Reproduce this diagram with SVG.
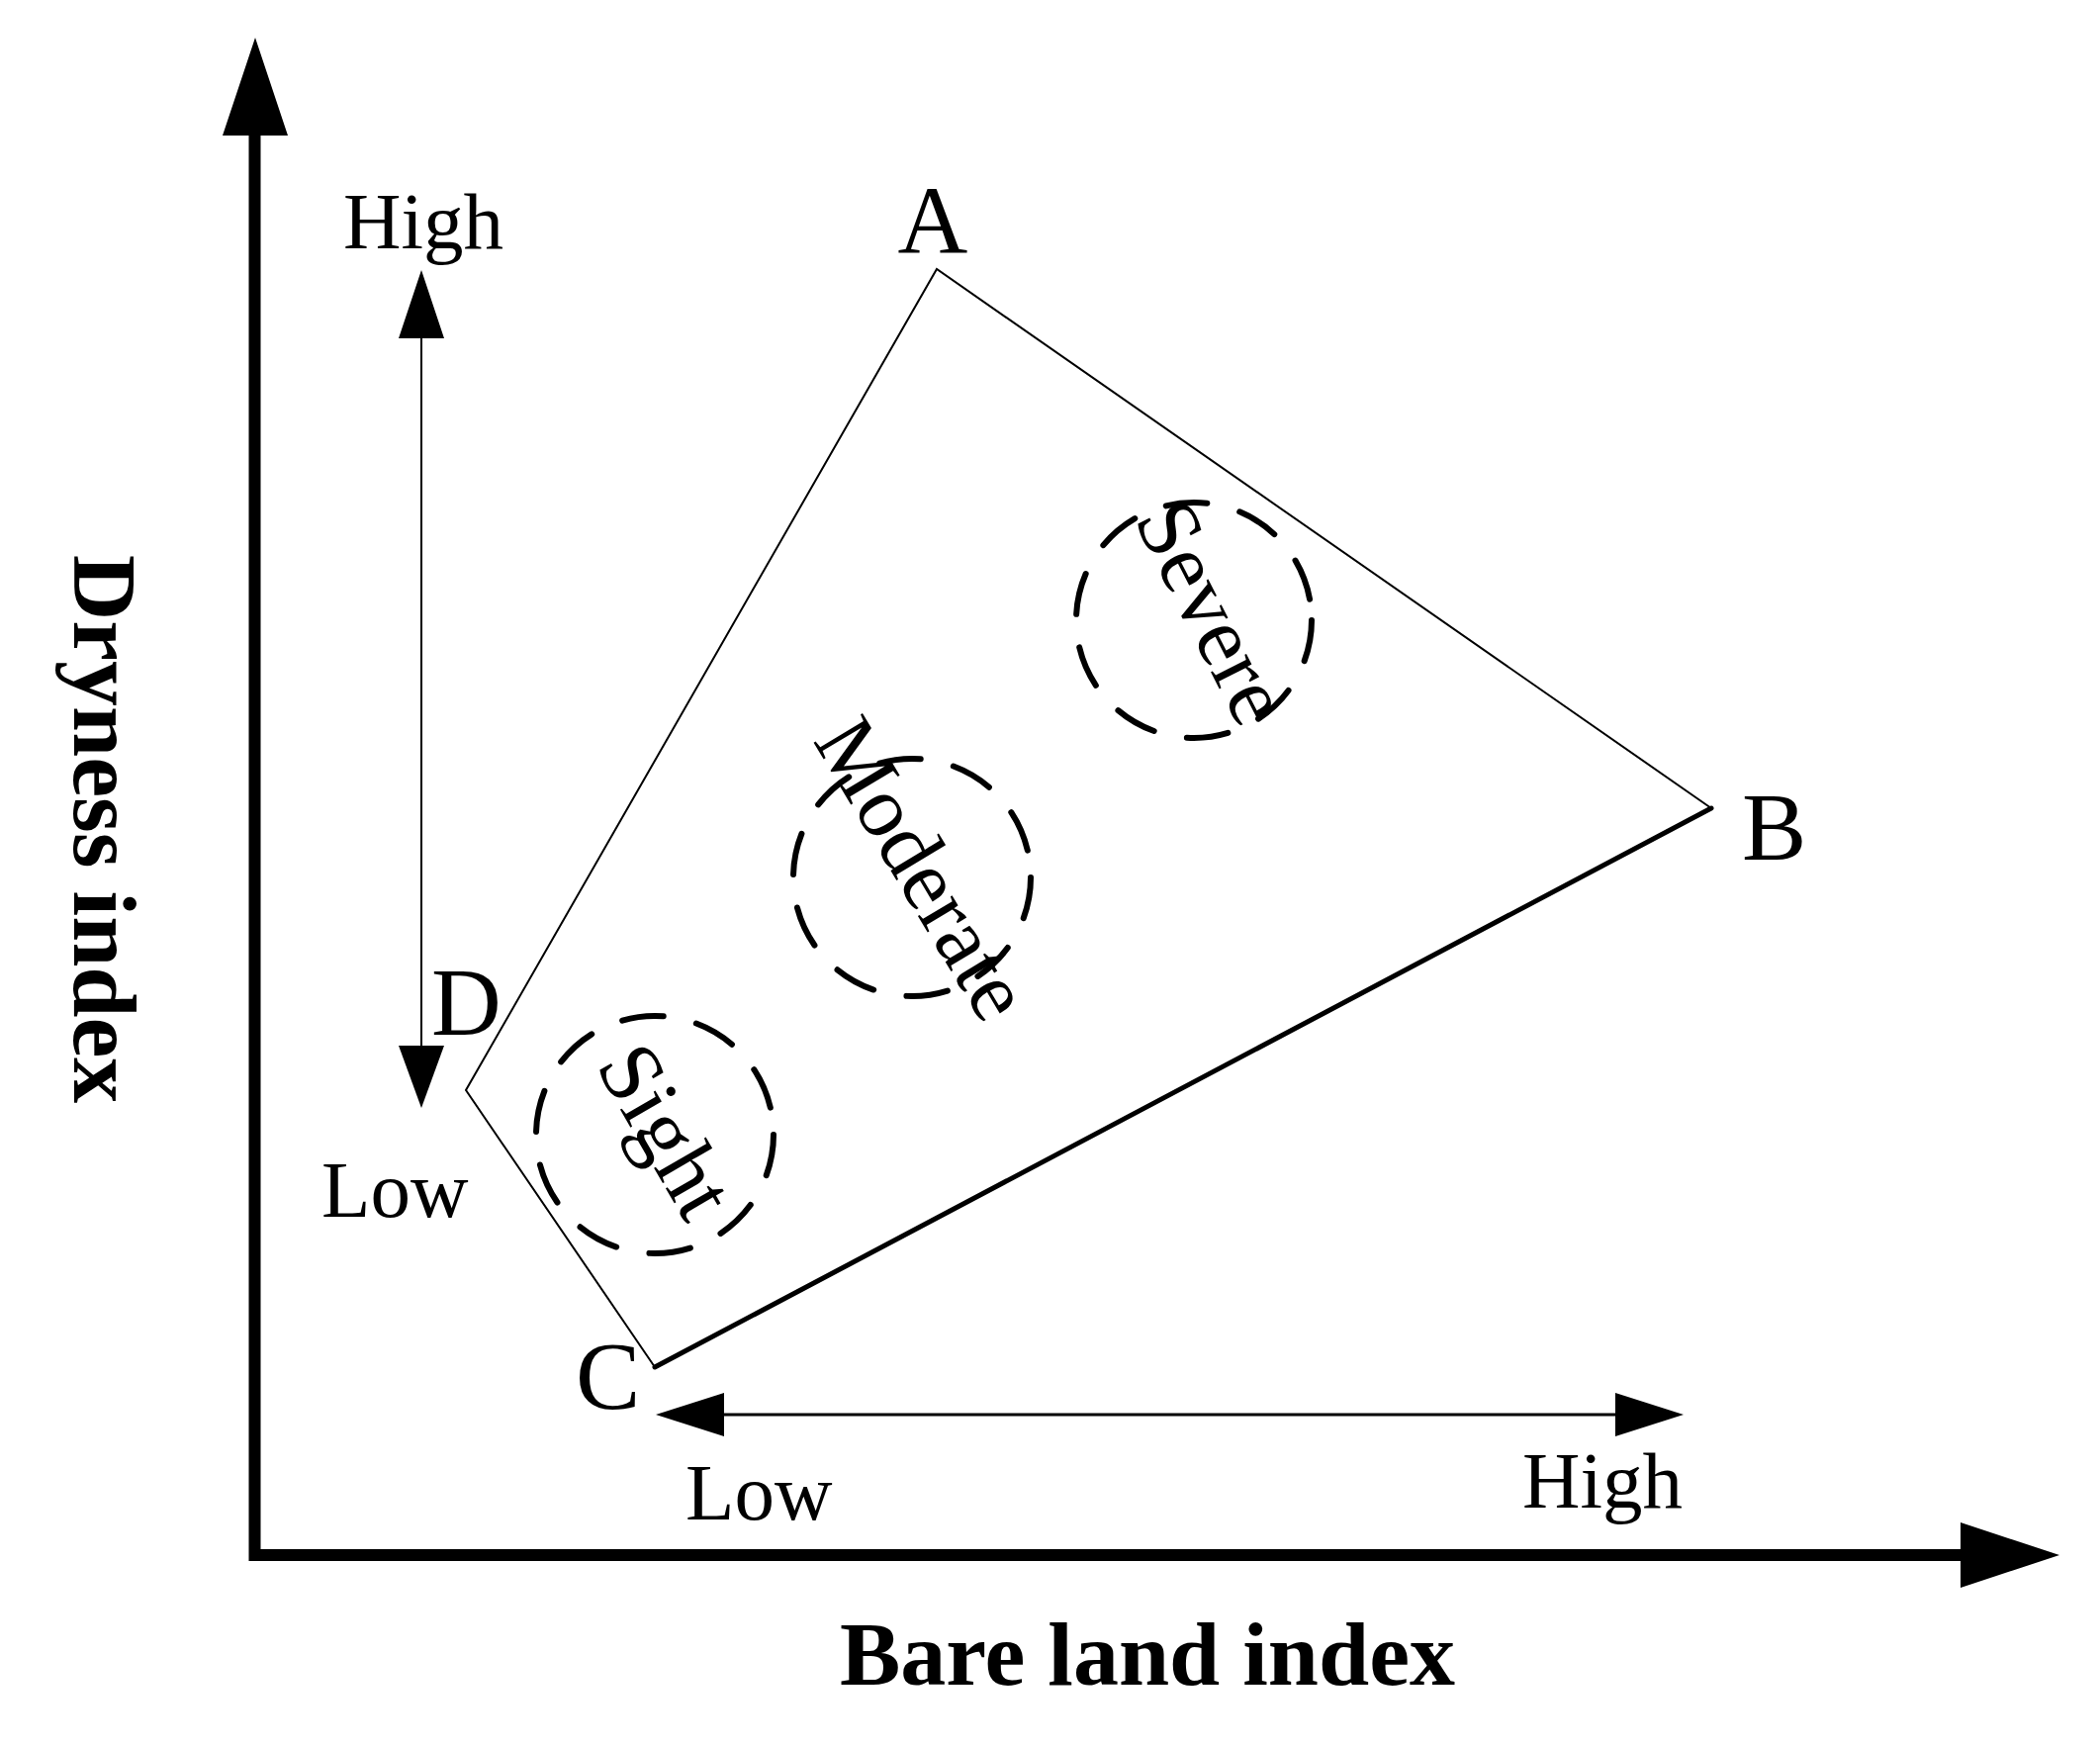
<svg xmlns="http://www.w3.org/2000/svg" width="2123" height="1766" viewBox="0 0 2123 1766">
<style>
text{font-family:"Liberation Serif","Times New Roman",serif;fill:#000}
.lbl{font-size:98px}
.small{font-size:81px}
.axis{font-size:92px;font-weight:bold}
.ring{fill:none;stroke:#000;stroke-width:6;stroke-dasharray:42 34;stroke-linecap:round}
.zone{font-size:88px}
.thin{fill:none;stroke:#000;stroke-width:2}
</style>
<rect width="2123" height="1766" fill="#fff"/>
<g id="axes">
<polyline points="257.5,137 257.5,1572 1982,1572" fill="none" stroke="#000" stroke-width="12" stroke-linejoin="miter" stroke-linecap="square"/>
<polygon points="258,38 225,137 291,137" fill="#000"/>
<polygon points="2082,1572 1982,1539 1982,1605" fill="#000"/>
<text class="axis" x="1160" y="1703" text-anchor="middle">Bare land index</text>
<text class="axis" transform="translate(75,838) rotate(90)" text-anchor="middle">Dryness index</text>
</g>
<g id="connectors">
<polyline class="thin" points="1730,817 947,272 471,1102 662,1382"/>
<line x1="662" y1="1382" x2="1730" y2="817" stroke="#000" stroke-width="5" stroke-linecap="round"/>
<line x1="426" y1="340" x2="426" y2="1059" stroke="#000" stroke-width="2"/>
<polygon points="426,273 403,342 449,342" fill="#000"/>
<polygon points="426,1120 403,1057 449,1057" fill="#000"/>
<line x1="730" y1="1430" x2="1636" y2="1430" stroke="#000" stroke-width="3"/>
<polygon points="663,1430 732,1408 732,1452" fill="#000"/>
<polygon points="1702,1430 1633,1408 1633,1452" fill="#000"/>
</g>
<g id="vertex-A"><text class="lbl" x="943" y="255" text-anchor="middle">A</text></g>
<g id="vertex-B"><text class="lbl" x="1761" y="869">B</text></g>
<g id="vertex-C"><text class="lbl" x="582" y="1424">C</text></g>
<g id="vertex-D"><text class="lbl" x="436" y="1046">D</text></g>
<g id="scale-labels">
<text class="small" x="347" y="251">High</text>
<text class="small" x="325" y="1230">Low</text>
<text class="small" x="693" y="1536">Low</text>
<text class="small" x="1539" y="1524">High</text>
</g>
<g id="zone-severe">
<circle class="ring" cx="1207" cy="627" r="119"/>
<text class="zone" text-anchor="middle" transform="translate(1200,632) rotate(63)">Severe</text>
</g>
<g id="zone-moderate">
<circle class="ring" cx="922" cy="887" r="120"/>
<text class="zone" text-anchor="middle" transform="translate(908,893) rotate(59)">Moderate</text>
</g>
<g id="zone-sight">
<circle class="ring" cx="662" cy="1147" r="120"/>
<text class="zone" text-anchor="middle" transform="translate(648,1158) rotate(60)">Sight</text>
</g>
</svg>
